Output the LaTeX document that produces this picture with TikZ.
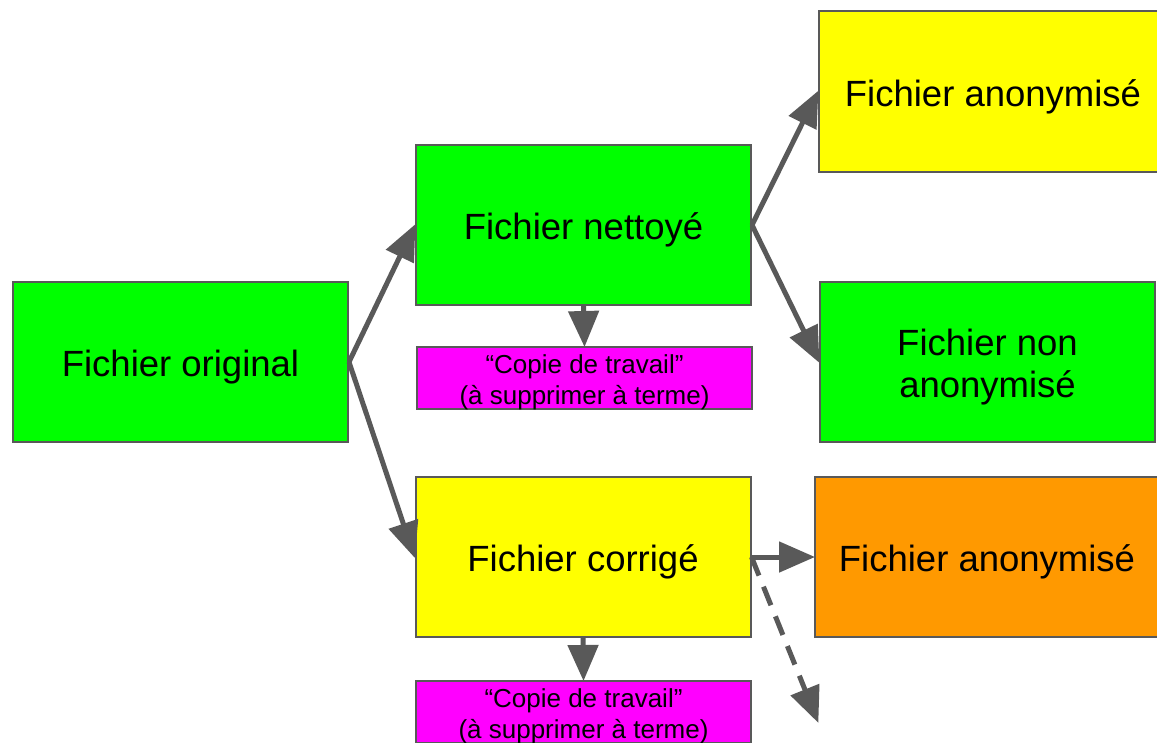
\documentclass[tikz,border=0pt]{standalone}
\usepackage{fontspec}
\setmainfont{Liberation Sans}
\usetikzlibrary{arrows.meta}
\definecolor{gbox}{HTML}{00FF00}
\definecolor{ybox}{HTML}{FFFF00}
\definecolor{pbox}{HTML}{FF00FF}
\definecolor{obox}{HTML}{FF9900}
\definecolor{edge}{HTML}{595959}
\tikzset{
  box/.style={draw=edge, line width=2pt, rectangle, inner sep=0pt,
    minimum width=335pt, minimum height=160pt},
  bigtext/.style={label={[align=center, yshift=-5pt, font=\fontsize{36.5}{42}\selectfont]center:#1}},
  pinkbox/.style={box, fill=pbox, minimum height=62pt},
  smalltext/.style={label={[align=center, yshift=-4.5pt, font=\fontsize{26}{31.5}\selectfont]center:#1}},
  conn/.style={draw=edge, line width=5pt, -{Triangle[length=36pt,width=30pt]}, shorten >=-1pt},
}
\begin{document}
\begin{tikzpicture}[x=1pt,y=-1pt]
\useasboundingbox (0,0) rectangle (1157,742);
\clip (0,0) rectangle (1157,742);
\node[box, fill=gbox, bigtext={Fichier original}] (orig) at (180.5,362) {};
\node[box, fill=gbox, bigtext={Fichier nettoyé}] (net) at (583.5,225) {};
\node[pinkbox, smalltext={“Copie de travail”\\(à supprimer à terme)}] (p1) at (584.5,378) {};
\node[box, fill=ybox, minimum width=348pt, minimum height=161pt, bigtext={Fichier anonymisé}] (anon1) at (993,91.5) {};
\node[box, fill=gbox, bigtext={Fichier non\\anonymisé}] (nonanon) at (987.5,362) {};
\node[box, fill=ybox, bigtext={Fichier corrigé}] (corr) at (583,557) {};
\node[box, fill=obox, minimum width=344pt, bigtext={Fichier anonymisé}] (anon2) at (987,557) {};
\node[pinkbox, smalltext={“Copie de travail”\\(à supprimer à terme)}] (p2) at (583.5,712) {};
\coordinate (dend) at (818,722);
\draw[conn] (orig.east) -- (net.west);
\draw[conn] (orig.east) -- (corr.west);
\draw[conn] (net.south) -- (p1.north);
\draw[conn] (corr.south) -- (p2.north);
\draw[conn] (net.east) -- (anon1.west);
\draw[conn] (net.east) -- (nonanon.west);
\draw[conn] (corr.east) -- (anon2.west);
\draw[conn, dash pattern=on 20pt off 12pt] (corr.east) -- (dend);
\end{tikzpicture}
\end{document}
